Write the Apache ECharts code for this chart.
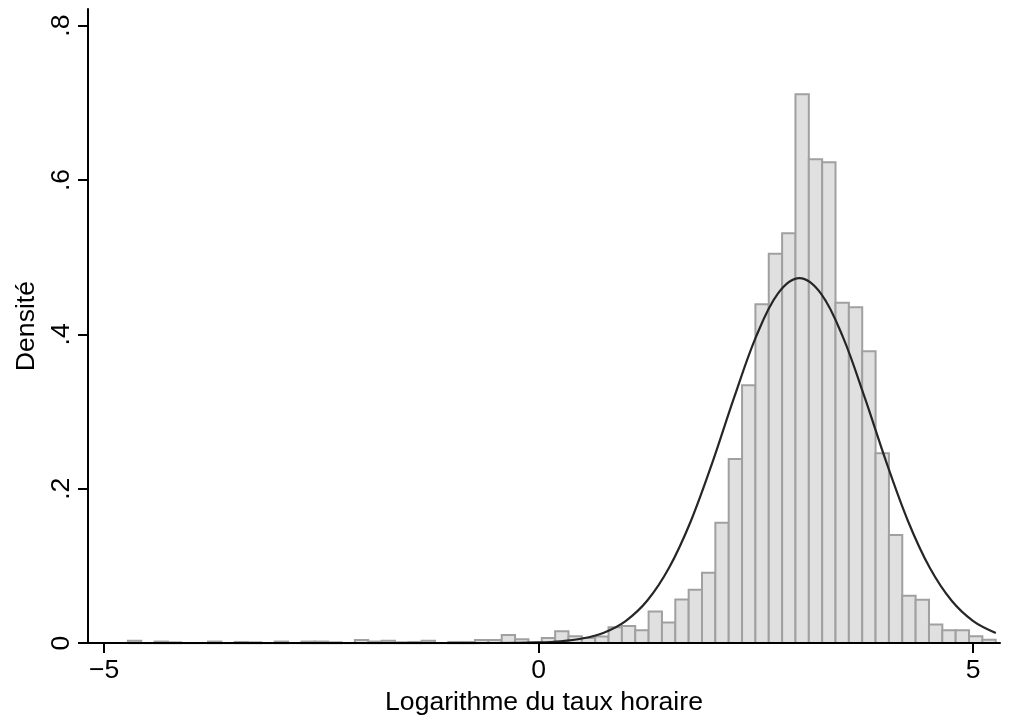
<!DOCTYPE html>
<html><head><meta charset="utf-8">
<script src="https://cdn.jsdelivr.net/npm/echarts@6/dist/echarts.min.js"></script>
<style>html,body{margin:0;padding:0;background:#fff}#c{width:1010px;height:721px}</style>
</head><body><div id="c"></div>
<script>
// Histogram bins (equal width), first edge and width
const firstBinEdge = -4.727;
const binWidth = 0.15363;
const densities = [
  0.003, 0, 0.002, 0.001, 0, 0, 0.002, 0, 0.0015, 0.001,
  0, 0.002, 0, 0.002, 0.002, 0.001, 0, 0.004, 0.002, 0.003,
  0.001, 0.0015, 0.003, 0, 0.0015, 0.0015, 0.004, 0.004, 0.0105, 0.005,
  0.0008, 0.0065, 0.0155, 0.009, 0.0065, 0.0085, 0.0206, 0.022, 0.0165, 0.041,
  0.0266, 0.0565, 0.069, 0.091, 0.156, 0.2385, 0.334, 0.439, 0.5045, 0.531,
  0.711, 0.627, 0.623, 0.441, 0.435, 0.378, 0.246, 0.140, 0.0615, 0.056,
  0.024, 0.0165, 0.0165, 0.009, 0.0043
];
// Normal density overlay
const curveX = [-4.72, -3, -1, -0.5, 0, 0.25, 0.5, 0.75, 1.0, 1.25, 1.5, 1.75, 2.0, 2.25, 2.5, 2.75, 3.0,
  3.25, 3.5, 3.75, 4.0, 4.25, 4.5, 4.75, 5.0, 5.26];
const curveY = [0, 0, 0, 0.0001, 0.0009, 0.0023, 0.0059, 0.0135, 0.0285, 0.0551, 0.0975, 0.1579, 0.2344, 0.3186, 0.3967, 0.4525, 0.4728,
  0.4525, 0.3967, 0.3186, 0.2344, 0.1579, 0.0975, 0.0551, 0.0285, 0.0131];
const xTicks = [-5, 0, 5];
const xTickLabels = ['\u22125', '0', '5'];
const yTicks = [0, 0.2, 0.4, 0.6, 0.8];
const yTickLabels = ['0', '.2', '.4', '.6', '.8'];

const histData = densities.map((d, i) => [firstBinEdge + i * binWidth, firstBinEdge + (i + 1) * binWidth, d]);
const curveData = curveX.map((x, i) => [x, curveY[i]]);

const FONT = 'Liberation Sans, Arial, Helvetica, sans-serif';
const FS = 26.6;
const chart = echarts.init(document.getElementById('c'), null, {renderer: 'canvas'});
chart.setOption({
  animation: false,
  backgroundColor: '#fff',
  grid: {left: 88, right: 10, top: 9, bottom: 75.5, containLabel: false},
  xAxis: {
    type: 'value', min: -5.186, max: 5.308, z: 5,
    splitLine: {show: false},
    axisLine: {onZero: false, lineStyle: {color: '#000', width: 2}},
    axisTick: {show: true, length: 10, customValues: xTicks, lineStyle: {color: '#000', width: 2}},
    axisLabel: {customValues: xTicks, fontSize: FS, color: '#000', fontFamily: FONT, margin: 14,
      formatter: v => xTickLabels[xTicks.indexOf(v)]},
    name: 'Logarithme du taux horaire', nameLocation: 'middle', nameGap: 31,
    nameTextStyle: {fontSize: FS, color: '#000', fontFamily: FONT}
  },
  yAxis: {
    type: 'value', min: 0, max: 0.8215, z: 5,
    splitLine: {show: false},
    axisLine: {show: true, onZero: false, lineStyle: {color: '#000', width: 2}},
    axisTick: {show: true, length: 10, customValues: yTicks, lineStyle: {color: '#000', width: 2}},
    axisLabel: {customValues: yTicks, rotate: 90, fontSize: FS, color: '#000', fontFamily: FONT, margin: 13,
      formatter: v => yTickLabels[yTicks.findIndex(t => Math.abs(t - v) < 1e-9)]},
    name: 'Densit\u00e9', nameLocation: 'middle', nameGap: 48, nameRotate: 90,
    nameTextStyle: {fontSize: FS, color: '#000', fontFamily: FONT}
  },
  series: [
    {
      type: 'custom', z: 2,
      data: histData,
      encode: {x: [0, 1], y: 2},
      renderItem: function (params, api) {
        const x0 = api.value(0), x1 = api.value(1), h = api.value(2);
        if (!h) return null;
        const p0 = api.coord([x0, h]);
        const p1 = api.coord([x1, 0]);
        return {
          type: 'rect',
          shape: {x: p0[0], y: p0[1], width: p1[0] - p0[0], height: p1[1] - p0[1]},
          style: {fill: '#e0e0e0', stroke: '#a0a0a0', lineWidth: 2}
        };
      }
    },
    {
      type: 'line', z: 3,
      data: curveData,
      smooth: 0.35,
      showSymbol: false,
      symbol: 'none',
      lineStyle: {color: '#262626', width: 2.2}
    }
  ]
});
</script>
</body></html>
